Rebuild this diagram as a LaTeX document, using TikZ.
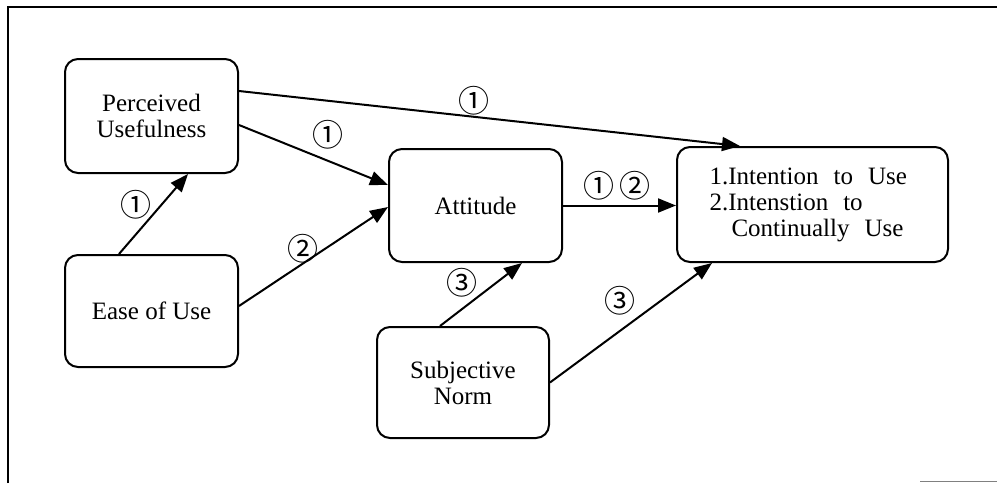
\documentclass[tikz,border=0pt]{standalone}
\usepackage{fontspec}
\setmainfont{Liberation Serif}
\newfontfamily\circfont{Noto Sans CJK JP}
\newcommand\widesp{\spaceskip=0.6em\relax}
\usetikzlibrary{positioning,arrows.meta}
\tikzset{
  box/.style={draw, line width=2pt, rounded corners=13pt, align=center, inner sep=0pt,
    font=\fontsize{25}{26}\selectfont},
  link/.style={line width=2pt, -{Triangle[length=18pt,width=14pt]}},
  lbl/.style={font=\circfont\fontsize{31}{31}\selectfont, inner sep=0pt},
}
\begin{document}
\begin{tikzpicture}[x=1pt,y=-1pt]
				\useasboundingbox (0,0) rectangle (997,483);
				% frame
				\draw[line width=2.2pt] (8,483) -- (8,7) -- (997,7);
				\draw[gray, line width=1pt] (920,481) -- (997,481);
				% boxes
				\node[box, minimum width=173pt, minimum height=114pt] (pu) at (151.5,116) {Perceived\\Usefulness};
				\node[box, minimum width=173pt, minimum height=112pt] (eou) at (151.5,311) {Ease of Use};
				\node[box, minimum width=173pt, minimum height=113pt] (att) at (475.5,205.5) {Attitude};
				\node[box, minimum width=172pt, minimum height=111pt] (sn) at (463,382.5) {Subjective\\Norm};
				\node[box, minimum width=271pt, minimum height=115pt, align=left] (int) at (812.5,204.5)
				  {\widesp 1.Intention to Use\\\widesp 2.Intenstion to\\\widesp\hspace*{22pt}Continually Use\hspace*{12pt}};
				% links
				\draw[link] ([xshift=-32.5pt]eou.north) -- node[lbl, pos=0.61, left=9pt] {①} ([xshift=36.5pt]pu.south);
				\draw[link] ([yshift=-9pt]pu.east) -- node[lbl, pos=0.6, above=11pt] {①} ([yshift=20.5pt]att.west);
				\draw[link] ([yshift=25pt]pu.east) -- node[lbl, pos=0.47, above=1pt] {①} ([xshift=-72.5pt]int.north);
				\draw[link] ([yshift=5pt]eou.east) -- node[lbl, pos=0.43, above=-1pt] {②} ([yshift=-1.5pt]att.west);
				\draw[link] (att.east) -- node[lbl, pos=0.48, above=4pt] {①\,②} (att.east -| int.west);
				\draw[link] ([xshift=-23pt]sn.north) -- node[lbl, pos=0.68, left=17pt] {③} ([xshift=46.5pt]att.south);
				\draw[link] (sn.east) -- node[lbl, pos=0.43, above=15pt] {③} ([xshift=-100.5pt]int.south);
			\end{tikzpicture}
\end{document}
